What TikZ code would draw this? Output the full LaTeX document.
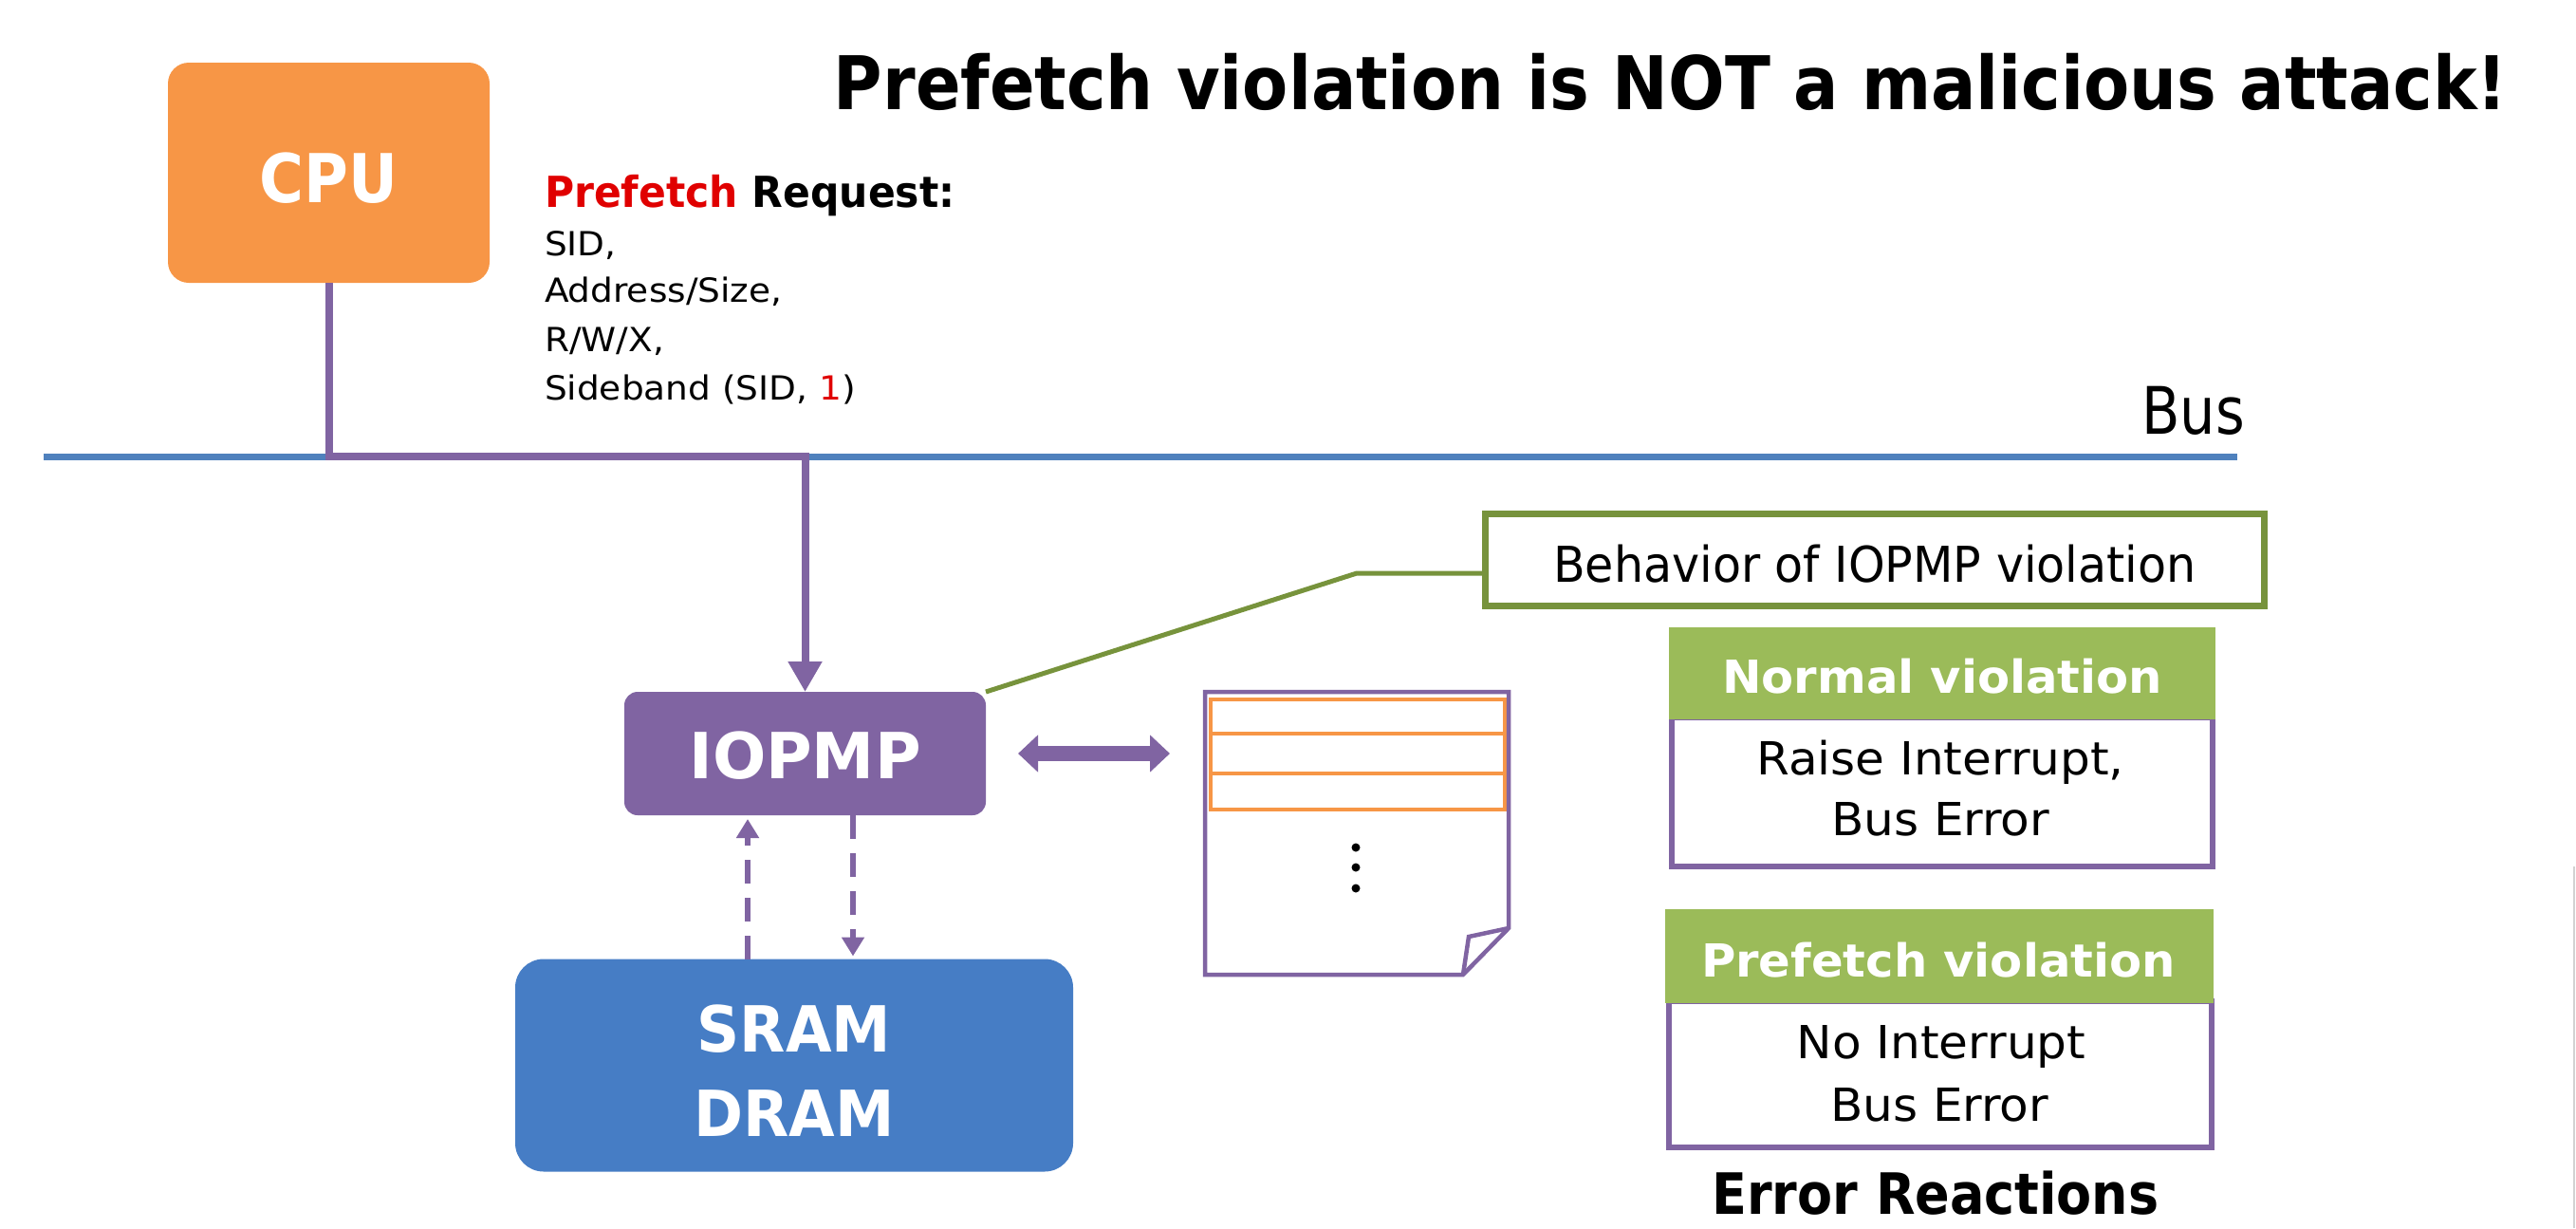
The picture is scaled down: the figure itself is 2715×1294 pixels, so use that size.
\documentclass[tikz,border=0pt]{standalone}
\usepackage{graphicx}
\usepackage{fontspec}
\setmainfont{DejaVu Sans Condensed}[BoldFont={DejaVu Sans Condensed Bold}]
\usetikzlibrary{arrows.meta,calc}

\definecolor{cpuorange}{HTML}{F79646}
\definecolor{iopurple}{HTML}{8064A2}
\definecolor{busblue}{HTML}{4F81BD}
\definecolor{memblue}{HTML}{467DC5}
\definecolor{hgreen}{HTML}{9BBB59}
\definecolor{gborder}{HTML}{77933C}
\definecolor{prefred}{HTML}{E00000}

\newcommand\fsz[1]{\fontsize{#1}{#1}\selectfont}
\newcommand\hx[2]{\scalebox{#1}[1]{#2}}

\tikzset{
  lbl/.style={inner sep=0pt, outer sep=0pt, anchor=base},
  plain/.style={inner sep=0pt, outer sep=0pt},
  pline/.style={draw=iopurple, line width=8pt, line join=miter},
  busline/.style={draw=busblue, line width=7pt},
  gline/.style={draw=gborder, line width=5pt},
  dline/.style={draw=iopurple, line width=5.5pt, dash pattern=on 25pt off 15pt},
  docline/.style={draw=iopurple, line width=4.5pt, line join=miter},
  rowline/.style={draw=cpuorange, line width=3.5pt},
  headbox/.style={plain, fill=hgreen},
  bodybox/.style={plain, draw=iopurple, line width=6pt},
  headtxt/.style={lbl, text=white, font=\fsz{48}\bfseries},
  bodytxt/.style={lbl, font=\fsz{48}},
  fieldtxt/.style={lbl, anchor=base west, font=\fsz{35}},
}

\begin{document}
\begin{tikzpicture}[x=1pt,y=-1pt]
\useasboundingbox (0,0) rectangle (2715,1294);

% heading
\node[lbl, font=\fsz{78}\bfseries] (title) at (1761,115)
  {Prefetch violation is NOT a malicious attack!};

% CPU and the request fields
\node[plain, rounded corners=22pt, fill=cpuorange, minimum width=339pt,
  minimum height=232pt, text=white, font=\fsz{71}\bfseries,
  text height=62pt, text depth=0pt] (cpu) at (346.5,182) {CPU};

\node[lbl, anchor=base west, font=\fsz{45}\bfseries] (req) at (574,218)
  {\hx{1.05}{\textcolor{prefred}{Prefetch} Request:}};
\node[fieldtxt] (f1) at (574,269) {\hx{1.19}{SID,}};
\node[fieldtxt] (f2) at (574,318) {\hx{1.19}{Address/Size,}};
\node[fieldtxt] (f3) at (574,370) {\hx{1.19}{R/W/X,}};
\node[fieldtxt] (f4) at (574,421)
  {\hx{1.19}{Sideband (SID, \textcolor{prefred}{1})}};

% bus
\coordinate (busL) at (46,481);
\coordinate (busR) at (2358,481);
\draw[busline] (busL) -- (busR);
\node[lbl, anchor=base east, font=\fsz{69}] (bustxt) at (2366,457) {\hx{0.95}{Bus}};

% IOPMP
\node[plain, rounded corners=14pt, fill=iopurple, minimum width=381pt,
  minimum height=130pt, text=white, font=\fsz{67}\bfseries,
  text height=52pt, text depth=0pt] (iopmp) at (848.5,794) {\hx{1.1}{IOPMP}};

% memory
\node[plain, rounded corners=30pt, fill=memblue, minimum width=588pt,
  minimum height=224pt] (mem) at (837,1122.5) {};
\node[lbl, text=white, font=\fsz{67}\bfseries] (sramtxt) at (837,1108) {\hx{1.04}{SRAM}};
\node[lbl, text=white, font=\fsz{67}\bfseries] (dramtxt) at (837,1197) {\hx{1.04}{DRAM}};

% CPU -> bus -> IOPMP
\coordinate (tap) at (iopmp.north |- busL);
\draw[pline, -{Triangle[length=32pt,width=34pt]}] (cpu.south) |- (tap) -- (iopmp.north);

% permission table
\node[plain, minimum width=320pt, minimum height=298pt] (doc) at (1430,878) {};
\draw[rowline] (1276,737) rectangle (1586,853);
\draw[rowline] (1276,773) -- (1586,773);
\draw[rowline] (1276,815) -- (1586,815);
\draw[docline] (doc.north west) -- (doc.north east) -- ([yshift=49pt]doc.south east)
  -- ([xshift=-48pt]doc.south east) -- (doc.south west) -- cycle;
\draw[docline] ([xshift=-48pt]doc.south east) -- ([xshift=-42pt,yshift=40pt]doc.south east)
  -- ([yshift=49pt]doc.south east);
\fill (1429,893) circle (4.5pt);
\fill (1429,914) circle (4.5pt);
\fill (1429,936) circle (4.5pt);

% IOPMP <-> table
\draw[iopurple, line width=16pt,
  {Triangle[length=21pt,width=38pt]}-{Triangle[length=21pt,width=38pt]},
  shorten <=34pt, shorten >=37pt] (iopmp.east) -- (iopmp.east -| doc.west);

% IOPMP <-> memory
\coordinate (upA) at ([xshift=-60.5pt]iopmp.south);
\coordinate (dnA) at ([xshift=50.5pt]iopmp.south);
\draw[dline, -{Triangle[length=20pt,width=23pt]}] (upA |- mem.north) -- ([yshift=-4pt]upA);
\draw[dline, -{Triangle[length=20pt,width=23pt]}] (dnA) -- ([yshift=3pt]dnA |- mem.north);

% violation behaviour callout
\node[plain, draw=gborder, line width=7pt, minimum width=821pt, minimum height=97pt,
  font=\fsz{52}, text height=46pt, text depth=0pt] (beh) at (1976,590)
  {\hx{1.05}{Behavior of IOPMP violation}};
\coordinate (bend) at (1430,604);
\draw[gline] (iopmp.north east) -- (bend) -- (bend -| beh.west);

% error reactions
\node[bodybox, minimum width=570pt, minimum height=157pt] (nvb) at (2047,834.5) {};
\node[headbox, minimum width=576pt, minimum height=97pt] (nvh) at (2047,709.5) {};
\node[headtxt] (nvt) at (2047,730) {\hx{1.15}{Normal violation}};
\node[bodytxt] (nv1) at (2045,816) {\hx{1.16}{Raise Interrupt,}};
\node[bodytxt] (nv2) at (2045,880) {\hx{1.16}{Bus Error}};

\node[bodybox, minimum width=572pt, minimum height=154pt] (pvb) at (2045,1132) {};
\node[headbox, minimum width=578pt, minimum height=99pt] (pvh) at (2044,1007.5) {};
\node[headtxt] (pvt) at (2043,1029) {\hx{1.15}{Prefetch violation}};
\node[bodytxt] (pv1) at (2046,1115) {\hx{1.16}{No Interrupt}};
\node[bodytxt] (pv2) at (2044,1181) {\hx{1.16}{Bus Error}};

\node[lbl, font=\fsz{60}\bfseries] (errtxt) at (2040,1279) {Error Reactions};

% edge of the frame
\draw[gray!35, line width=2pt] (2713,913) -- (2713,1294);
\end{tikzpicture}
\end{document}
